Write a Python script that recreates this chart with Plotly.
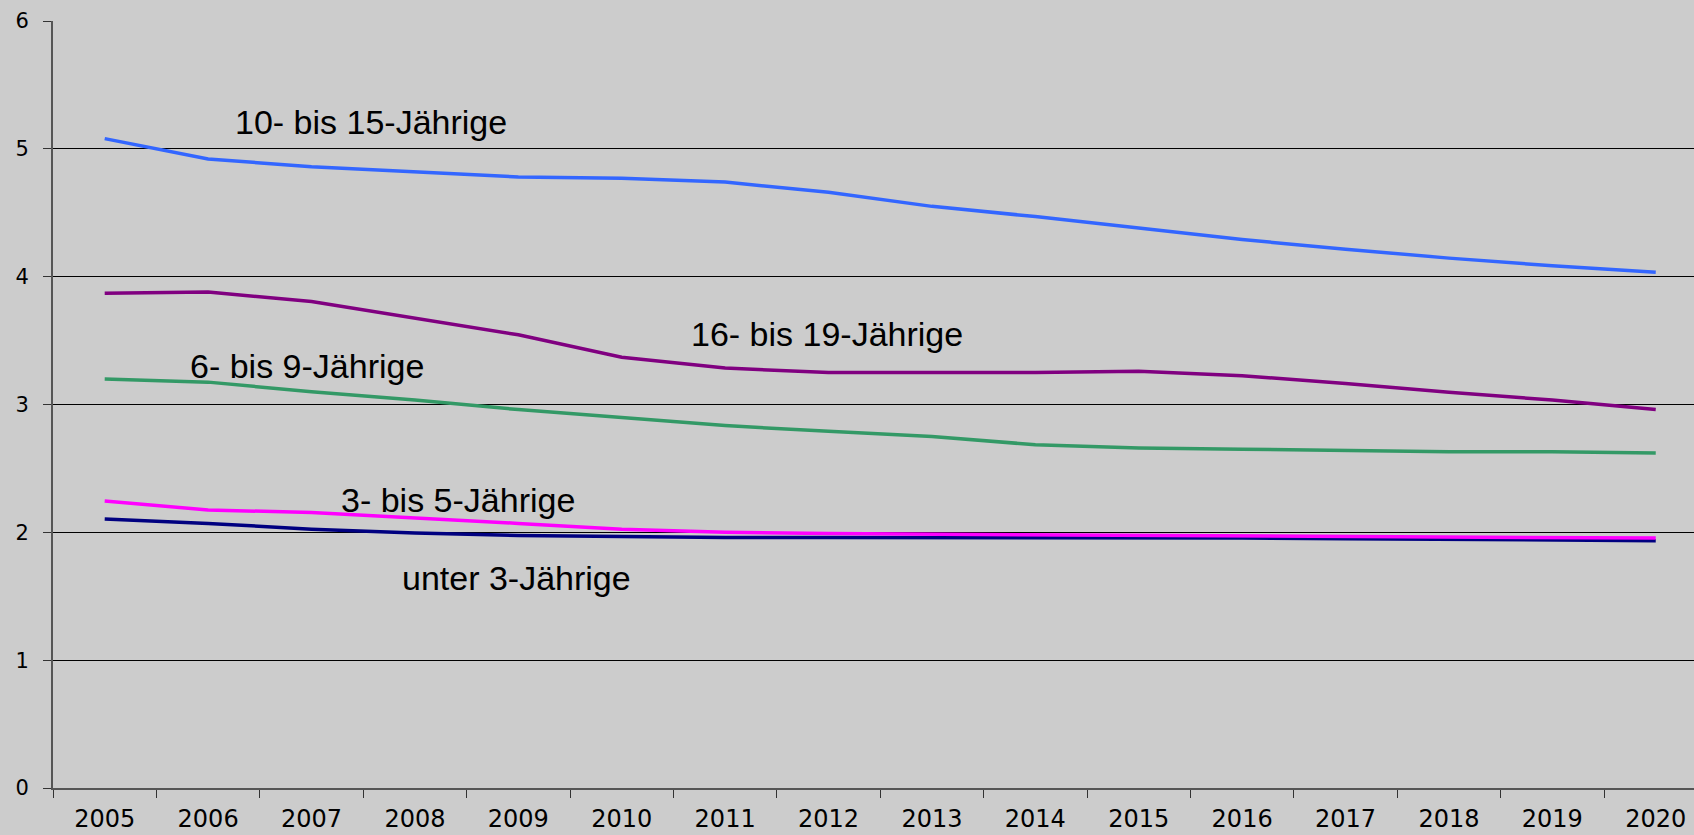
import plotly.graph_objects as go

jahre = [str(j) for j in range(2005, 2021)]

unter_3 = [2.105, 2.07, 2.025, 1.995, 1.975, 1.965, 1.96, 1.96, 1.96, 1.96, 1.955, 1.955, 1.95, 1.945, 1.94, 1.935]
drei_bis_5 = [2.245, 2.175, 2.155, 2.115, 2.07, 2.025, 2.0, 1.99, 1.985, 1.98, 1.975, 1.97, 1.965, 1.96, 1.955, 1.955]
sechs_bis_9 = [3.20, 3.175, 3.10, 3.035, 2.96, 2.895, 2.835, 2.79, 2.75, 2.685, 2.66, 2.65, 2.64, 2.63, 2.63, 2.62]
zehn_bis_15 = [5.08, 4.92, 4.86, 4.82, 4.78, 4.77, 4.74, 4.66, 4.55, 4.47, 4.38, 4.29, 4.215, 4.145, 4.085, 4.035]
sechzehn_bis_19 = [3.87, 3.88, 3.805, 3.675, 3.545, 3.37, 3.285, 3.25, 3.25, 3.25, 3.26, 3.225, 3.165, 3.095, 3.035, 2.96]

serien = [
    ("unter 3-Jährige", unter_3, "#000080"),
    ("3- bis 5-Jährige", drei_bis_5, "#FF00FF"),
    ("6- bis 9-Jährige", sechs_bis_9, "#339966"),
    ("10- bis 15-Jährige", zehn_bis_15, "#3366FF"),
    ("16- bis 19-Jährige", sechzehn_bis_19, "#800080"),
]

# label positions (category index, value)
beschriftung = [
    ("10- bis 15-Jährige", 2.58, 5.21),
    ("16- bis 19-Jährige", 6.99, 3.55),
    ("6- bis 9-Jährige", 1.96, 3.30),
    ("3- bis 5-Jährige", 3.42, 2.25),
    ("unter 3-Jährige", 3.98, 1.64),
]

fig = go.Figure()
for name, werte, farbe in serien:
    fig.add_trace(go.Scatter(x=jahre, y=werte, name=name, mode="lines",
                             line=dict(color=farbe, width=3.5)))

for text, x, y in beschriftung:
    fig.add_annotation(x=x, y=y, text=text, showarrow=False, xanchor="center", yanchor="middle",
                       font=dict(family="Liberation Sans, Arial", size=34, color="black"))

fig.update_layout(
    width=1694, height=835,
    margin=dict(l=53, r=0, t=21, b=47),
    paper_bgcolor="#CCCCCC", plot_bgcolor="#CCCCCC",
    showlegend=False,
    xaxis=dict(type="category", range=[-0.5, 15.37], tickson="boundaries", automargin=False,
               ticks="outside", ticklen=8, tickcolor="#333333",
               showline=True, linecolor="#555555", linewidth=2, showgrid=False,
               tickfont=dict(family="DejaVu Sans", size=24, color="black"), ticklabelstandoff=8),
    yaxis=dict(range=[0, 6], dtick=1, ticks="outside", ticklen=8, tickcolor="#333333", automargin=False,
               showline=True, linecolor="#555555", linewidth=2,
               showgrid=True, gridcolor="black", gridwidth=1, zeroline=False,
               tickfont=dict(family="DejaVu Sans", size=21, color="black"), ticklabelstandoff=10),
)

# browser default body margin would shift the figure by 8px
fig.write_html("out.html", config={"displayModeBar": False},
               post_script="document.body.style.margin='0px';document.body.style.background='#CCCCCC';")
